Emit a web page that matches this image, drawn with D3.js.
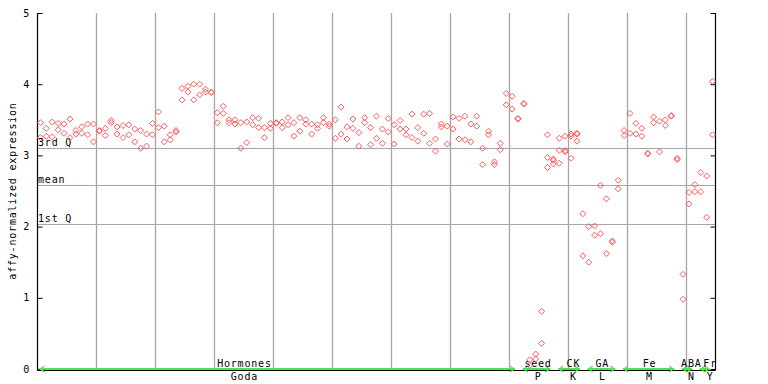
<!DOCTYPE html>
<html><head><meta charset="utf-8">
<script src="https://cdn.jsdelivr.net/npm/d3@7"></script>
<style>
html,body{margin:0;padding:0;background:#fff;}
text{font-family:"DejaVu Sans Mono",monospace;font-size:10px;letter-spacing:0.8px;fill:#000;}
</style></head>
<body><svg id="c" width="768" height="384"></svg>
<script>
// replicate values per sample (index 0..114)
const rep1 = [3.46,3.38,3.47,3.45,3.44,3.51,3.35,3.40,3.44,3.44,
              3.35,3.38,3.49,3.40,3.42,3.43,3.37,3.35,3.30,3.45,
              3.61,3.41,3.29,3.35,3.94,3.97,4.00,4.00,3.93,3.89,
              3.60,3.69,3.50,3.50,3.46,3.47,3.53,3.52,3.39,3.45,
              3.46,3.47,3.53,3.46,3.53,3.50,3.44,3.43,3.53,3.44,
              3.50,3.68,3.40,3.51,3.32,3.53,3.39,3.55,3.37,3.52,
              3.43,3.49,3.37,3.58,3.39,3.58,3.59,3.23,3.44,3.41,
              3.54,3.52,3.55,3.44,3.55,3.10,3.34,2.91,3.17,3.87,
              3.83,3.52,3.73,0.13,0.21,0.81,3.29,2.95,3.24,3.27,
              3.30,3.31,2.18,2.00,2.01,2.58,2.39,1.80,2.65,3.35,
              3.59,3.45,3.38,3.03,3.54,3.48,3.50,3.56,2.96,1.33,
              2.48,2.59,2.76,2.71,4.04];
const rep2 = [3.25,3.27,3.26,3.36,3.31,3.25,3.30,3.31,3.29,3.19,
              3.34,3.28,3.46,3.30,3.25,3.29,3.19,3.10,3.13,3.29,
              3.39,3.19,3.22,3.33,3.78,3.89,3.78,3.85,3.89,3.88,
              3.46,3.59,3.46,3.44,3.10,3.18,3.43,3.39,3.25,3.38,
              3.45,3.39,3.43,3.27,3.34,3.44,3.30,3.38,3.46,3.41,
              3.24,3.30,3.23,3.38,3.13,3.46,3.15,3.24,3.17,3.33,
              3.16,3.37,3.29,3.25,3.20,3.31,3.17,3.06,3.40,3.16,
              3.37,3.23,3.22,3.19,3.41,2.87,3.29,2.87,3.08,3.71,
              3.65,3.51,3.72,0.05,0.14,0.36,2.97,2.93,3.07,3.07,
              3.27,3.30,1.59,1.50,1.88,1.90,1.62,1.78,2.53,3.28,
              3.31,3.30,3.27,3.02,3.46,3.05,3.42,3.55,2.94,0.98,
              2.32,2.49,2.49,2.13,3.29];
// third replicate, only where present
const rep3Index = [86,87,88,89,90,91];
const rep3 = [2.83,2.88,2.89,3.05,2.96,3.20];

// summary lines
const statNames = ["3rd Q","mean","1st Q"];
const statValues = [3.10,2.58,2.04];

// experiment groups
const groupTop = ["Hormones","seed","CK","GA","Fe","ABA","Fr"];
const groupBottom = ["Goda","P","K","L","M","N","Y"];
const groupStart = [0,82,88,93,99,109,112];
const groupEnd = [81,87,92,98,108,111,114];
const groupLabelAt = [34.6,84.4,90.4,95.3,103.3,110.4,113.6];

const yTicks = [0,1,2,3,4,5];
const nSamples = rep1.length;

const svg = d3.select("#c");
const x = d3.scaleLinear().domain([-0.5, nSamples-0.5]).range([37.5, 715.5]);
const y = d3.scaleLinear().domain([0,5]).range([369,13]);
const gridIdx = d3.range(9.5, nSamples-1, 10);

// vertical grid
svg.append("g").selectAll("line").data(gridIdx).join("line")
  .attr("x1", d=>Math.round(x(d))+0.5).attr("x2", d=>Math.round(x(d))+0.5)
  .attr("y1", y(5)).attr("y2", y(0)+1)
  .attr("stroke","#a6a6a6").attr("stroke-width",1.3);

// stat lines
svg.append("g").selectAll("line").data(statValues).join("line")
  .attr("x1", x.range()[0]).attr("x2", x.range()[1])
  .attr("y1", d=>Math.round(y(d))+0.5).attr("y2", d=>Math.round(y(d))+0.5)
  .attr("stroke","#a6a6a6").attr("stroke-width",1);
svg.append("g").selectAll("text").data(statValues).join("text")
  .attr("x", 38).attr("y", d=>Math.round(y(d))-2.5)
  .text((d,i)=>statNames[i]);

// axes
const axisL = d3.axisRight(y).tickValues(yTicks).tickSize(5).tickFormat("");
const gL = svg.append("g").attr("transform",`translate(${x.range()[0]},0)`).call(axisL);
const axisR = d3.axisLeft(y).tickValues(yTicks).tickSize(5).tickFormat("");
const gR = svg.append("g").attr("transform",`translate(${x.range()[1]},0)`).call(axisR);
[gL,gR].forEach(g=>{
  g.select(".domain").attr("d", `M0,${y(5)}V${y(0)+1.5}`).attr("stroke","#000").attr("stroke-width",1.2);
  g.selectAll(".tick line").attr("stroke","#000");
});
svg.append("g").selectAll("text").data(yTicks).join("text")
  .attr("x", 30).attr("y", d=>y(d)).attr("dy","0.35em")
  .attr("text-anchor","end").text(d=>d);
svg.append("line").attr("x1",x.range()[0]).attr("x2",x.range()[1])
  .attr("y1",370.5).attr("y2",370.5).attr("stroke","#000").attr("stroke-width",1);

svg.append("text").attr("transform",`translate(12,${(y(0)+y(5))/2}) rotate(-90)`)
  .attr("text-anchor","middle").attr("dy","0.35em").text("affy-normalized expression");

// group arrows
const green = "#4ee44e";
const gg = svg.append("g");
groupStart.forEach((s,i)=>{
  const x1 = x(s)-1, x2 = x(groupEnd[i]-0.5);
  const yy = 369;
  gg.append("line").attr("x1",x1).attr("x2",x2).attr("y1",yy).attr("y2",yy)
    .attr("stroke",green).attr("stroke-width",2);
  gg.append("path").attr("d",`M${x1+5},${yy-3}L${x1+1},${yy}L${x1+5},${yy+3}`)
    .attr("fill","none").attr("stroke",green).attr("stroke-width",1.3);
  gg.append("path").attr("d",`M${x2-5},${yy-3}L${x2-1},${yy}L${x2-5},${yy+3}`)
    .attr("fill","none").attr("stroke",green).attr("stroke-width",1.3);
  gg.append("text").attr("x",x(groupLabelAt[i])).attr("y",366.5)
    .attr("text-anchor","middle").text(groupTop[i]);
  gg.append("text").attr("x",x(groupLabelAt[i])).attr("y",380)
    .attr("text-anchor","middle").text(groupBottom[i]);
});

// points
const pts = [];
rep1.forEach((v,i)=>pts.push({i,v}));
rep2.forEach((v,i)=>pts.push({i,v}));
rep3.forEach((v,k)=>pts.push({i:rep3Index[k],v}));
const diamond = "M0,-3L3,0L0,3L-3,0Z";
svg.append("g").selectAll("path").data(pts).join("path")
  .attr("transform",d=>`translate(${x(d.i)},${y(d.v)})`)
  .attr("d",diamond).attr("fill","none")
  .attr("stroke","#ff5a5a").attr("stroke-width",1);
</script></body></html>
